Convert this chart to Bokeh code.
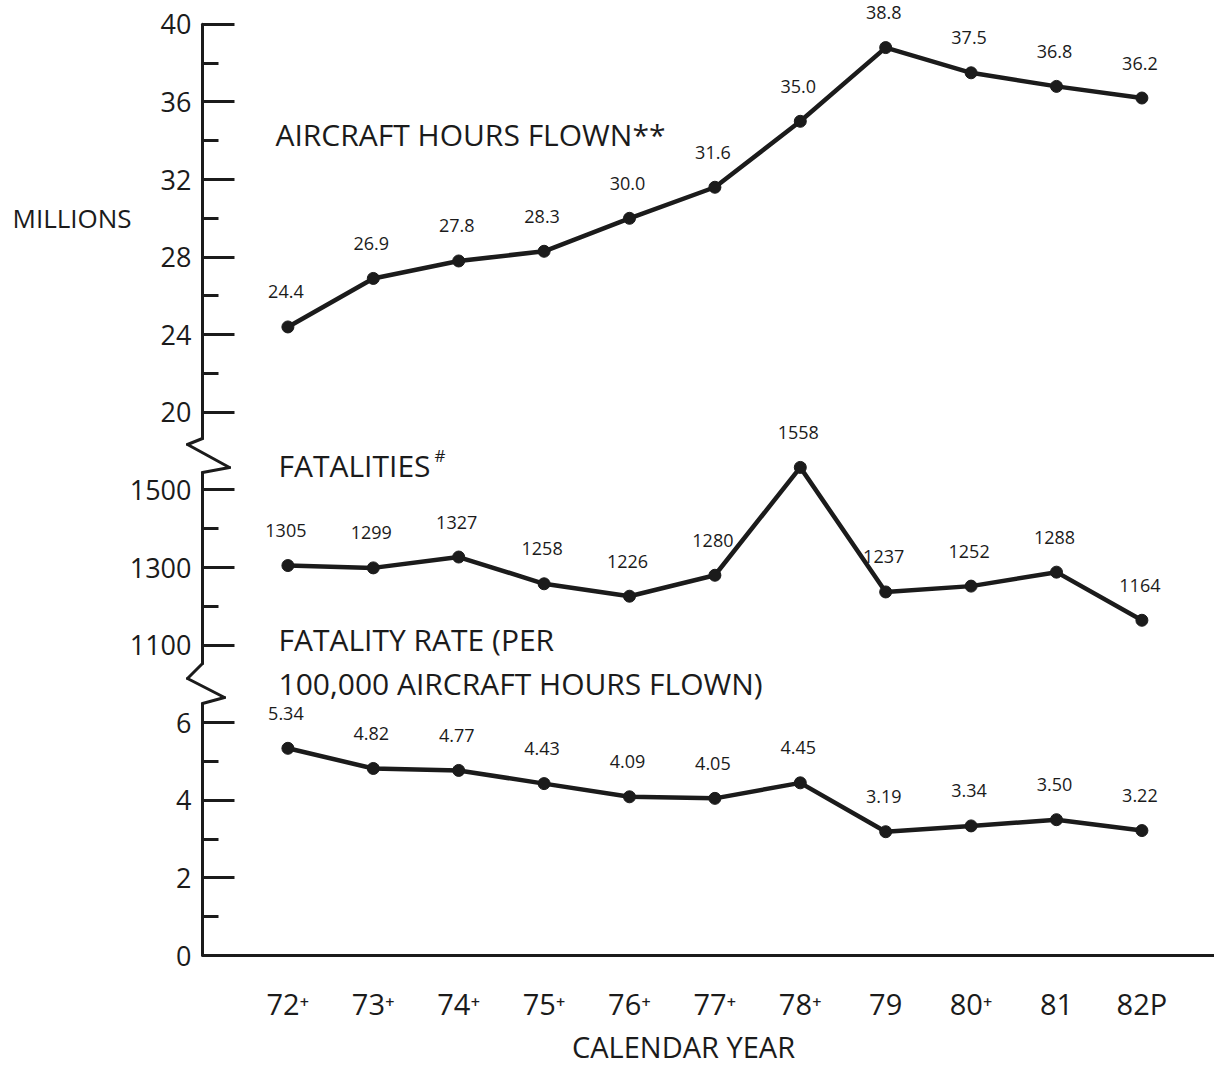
from bokeh.plotting import figure
from bokeh.models import FixedTicker, Label, ColumnDataSource, Range1d, Arrow
from bokeh.embed import file_html
from bokeh.resources import INLINE
from bokeh.core.properties import value

# ---------------- data ----------------
years = ["72⁺", "73⁺", "74⁺", "75⁺", "76⁺", "77⁺", "78⁺", "79", "80⁺", "81", "82P"]
hours = [24.4, 26.9, 27.8, 28.3, 30.0, 31.6, 35.0, 38.8, 37.5, 36.8, 36.2]
fatalities = [1305, 1299, 1327, 1258, 1226, 1280, 1558, 1237, 1252, 1288, 1164]
rates = [5.34, 4.82, 4.77, 4.43, 4.09, 4.05, 4.45, 3.19, 3.34, 3.50, 3.22]

rate_ticks = [0, 2, 4, 6]
rate_minor = [1, 3, 5]
fatal_ticks = [1100, 1300, 1500]
fatal_minor = [1200, 1400]
hours_ticks = [20, 24, 28, 32, 36, 40]
hours_minor = [22, 26, 30, 34, 38]

# the single vertical scale is broken into three bands
def band_rate(v):
    return v / 2.0

def band_fatal(v):
    return 4 + (v - 1100) / 200.0

def band_hours(v):
    return 7 + (v - 20) / 4.0

INK = "#1b1b1b"
FONT = "Open Sans"
PX_X = 85.4   # pixels per category step
PX_Y = 77.6   # pixels per band unit
W, H = 1214, 1072
X_ORIGIN = 287.4   # pixel column of the first category
Y_ORIGIN = 955.0   # pixel row of the zero line

def px_x(page_x):
    return (page_x - X_ORIGIN) / PX_X

def cy(page_y):
    return (Y_ORIGIN - page_y) / PX_Y

p = figure(width=W, height=H,
           x_range=Range1d(px_x(0), px_x(W)),
           y_range=Range1d(cy(H), cy(0)),
           output_backend="svg", toolbar_location=None, min_border=0)
p.xgrid.visible = False
p.ygrid.visible = False
p.outline_line_color = None
p.background_fill_color = "white"
p.border_fill_color = "white"

xs = list(range(len(years)))
AXIS_X = -1

# ---------------- y axis (ticks + labels) ----------------
major_pos, major_lab = [], []
for t in rate_ticks:
    major_pos.append(band_rate(t)); major_lab.append(str(t))
for t in fatal_ticks:
    major_pos.append(band_fatal(t)); major_lab.append(str(t))
for t in hours_ticks:
    major_pos.append(band_hours(t)); major_lab.append(str(t))
minor_pos = ([band_rate(t) for t in rate_minor] +
             [band_fatal(t) for t in fatal_minor] +
             [band_hours(t) for t in hours_minor])

major_int = [int(round(v)) for v in major_pos]
p.yaxis.fixed_location = AXIS_X
p.yaxis.bounds = (0, band_hours(hours_ticks[-1]))
p.yaxis.ticker = FixedTicker(ticks=major_int, minor_ticks=minor_pos)
p.yaxis.major_label_overrides = {k: lab for k, lab in zip(major_int, major_lab)}
p.yaxis.axis_line_color = None
p.yaxis.major_tick_in = 32
p.yaxis.major_tick_out = 0
p.yaxis.minor_tick_in = 16
p.yaxis.minor_tick_out = 0
p.yaxis.major_tick_line_width = 3
p.yaxis.minor_tick_line_width = 3
p.yaxis.major_tick_line_color = INK
p.yaxis.minor_tick_line_color = INK
p.yaxis.major_label_text_font = FONT
p.yaxis.major_label_text_font_size = "27px"
p.yaxis.major_label_text_color = INK
p.yaxis.major_label_standoff = 11

# broken axis line with zigzags (decoration)
def dx(px):
    return AXIS_X + px / PX_X

path = [(dx(0), 0.0),
        (dx(0), cy(703)), (dx(22), cy(697)), (dx(-15), cy(678)), (dx(0), cy(663)),
        (dx(0), cy(472)), (dx(27), cy(467)), (dx(-15), cy(444)), (dx(0), cy(438)),
        (dx(0), band_hours(hours_ticks[-1]))]
seg = ColumnDataSource(dict(
    x0=[a[0] for a in path[:-1]], y0=[a[1] for a in path[:-1]],
    x1=[a[0] for a in path[1:]], y1=[a[1] for a in path[1:]]))
p.add_layout(Arrow(end=None, x_start="x0", y_start="y0", x_end="x1", y_end="y1",
                   source=seg, line_width=3, line_color=INK, line_cap="round"))

# ---------------- x axis ----------------
p.xaxis.fixed_location = 0
p.xaxis.bounds = (AXIS_X, px_x(W))
p.xaxis.ticker = FixedTicker(ticks=xs)
p.xaxis.major_label_overrides = {i: y for i, y in zip(xs, years)}
p.xaxis.major_tick_in = 0
p.xaxis.major_tick_out = 0
p.xaxis.axis_line_width = 3
p.xaxis.axis_line_color = INK
p.xaxis.major_label_text_font = FONT
p.xaxis.major_label_text_font_size = "29px"
p.xaxis.major_label_text_color = INK
p.xaxis.major_label_standoff = 28

# ---------------- series ----------------
def draw(vals, fn, fmt):
    cs = [fn(v) for v in vals]
    src = ColumnDataSource(dict(x=xs, y=cs, lab=[fmt.format(v) for v in vals]))
    p.line("x", "y", source=src, line_width=4.5, line_color=INK, line_join="round")
    p.scatter("x", "y", source=src, size=12, fill_color=INK, line_color=INK)
    p.text("x", "y", text="lab", source=src, x_offset=-2, y_offset=-35,
           text_align="center", text_baseline="middle",
           text_font=value(FONT), text_font_size="18px", text_color=INK)

draw(hours, band_hours, "{:.1f}")
draw(fatalities, band_fatal, "{:d}")
draw(rates, band_rate, "{:.2f}")

# ---------------- texts ----------------
def add_label(txt, page_x, page_y, size, align="left"):
    p.add_layout(Label(x=px_x(page_x), y=cy(page_y), text=txt,
                       text_font=FONT, text_font_size=size, text_color=INK,
                       text_align=align, text_baseline="middle"))

add_label("AIRCRAFT HOURS FLOWN**", 275, 134, "30px")
add_label("MILLIONS", 12, 217, "26px")
add_label("FATALITIES", 278, 465, "30px")
add_label("#", 434, 455, "17px")
add_label("FATALITY RATE (PER", 278, 639, "30px")
add_label("100,000 AIRCRAFT HOURS FLOWN)", 278, 683, "30px")
add_label("CALENDAR YEAR", 683, 1046, "29px", align="center")

open("out.html", "w").write(file_html(p, INLINE))
